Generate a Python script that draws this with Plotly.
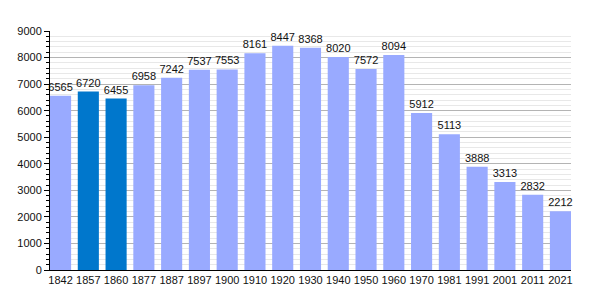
import plotly.graph_objects as go

years = ["1842", "1857", "1860", "1877", "1887", "1897", "1900", "1910", "1920", "1930",
         "1940", "1950", "1960", "1970", "1981", "1991", "2001", "2011", "2021"]
population = [6565, 6720, 6455, 6958, 7242, 7537, 7553, 8161, 8447, 8368,
              8020, 7572, 8094, 5912, 5113, 3888, 3313, 2832, 2212]
highlight = ["1857", "1860"]

colors = ["#0077CC" if y in highlight else "#99AAFF" for y in years]

fig = go.Figure(go.Bar(
    x=years, y=population,
    marker=dict(color=colors, line=dict(width=0)),
    text=[str(v) for v in population],
    textposition="outside",
    constraintext="none",
    textfont=dict(size=11, color="#111111", family="Liberation Sans, Arial, sans-serif"),
    cliponaxis=False,
))

fig.update_layout(
    width=600, height=300,
    margin=dict(l=50, r=29, t=31, b=30),
    plot_bgcolor="white", paper_bgcolor="white",
    bargap=0.24,
    showlegend=False,
    font=dict(family="Liberation Sans, Arial, sans-serif", size=11, color="#111111"),
)
fig.update_xaxes(
    type="category", range=[-0.38, 18.38],
    showline=True, linecolor="black", linewidth=1,
    ticks="", showgrid=False, tickfont=dict(size=11),
)
fig.update_yaxes(
    range=[0, 9000], dtick=1000, tick0=0,
    showline=True, linecolor="black", linewidth=1,
    ticks="outside", ticklen=5, tickcolor="black",
    showgrid=True, gridcolor="#b4b4b4", gridwidth=1,
    zeroline=False,
    minor=dict(dtick=200, showgrid=True, gridcolor="#e8e8e8", ticks="outside", ticklen=3, tickcolor="black"),
    tickfont=dict(size=11),
)

fig.write_html("out.html")
